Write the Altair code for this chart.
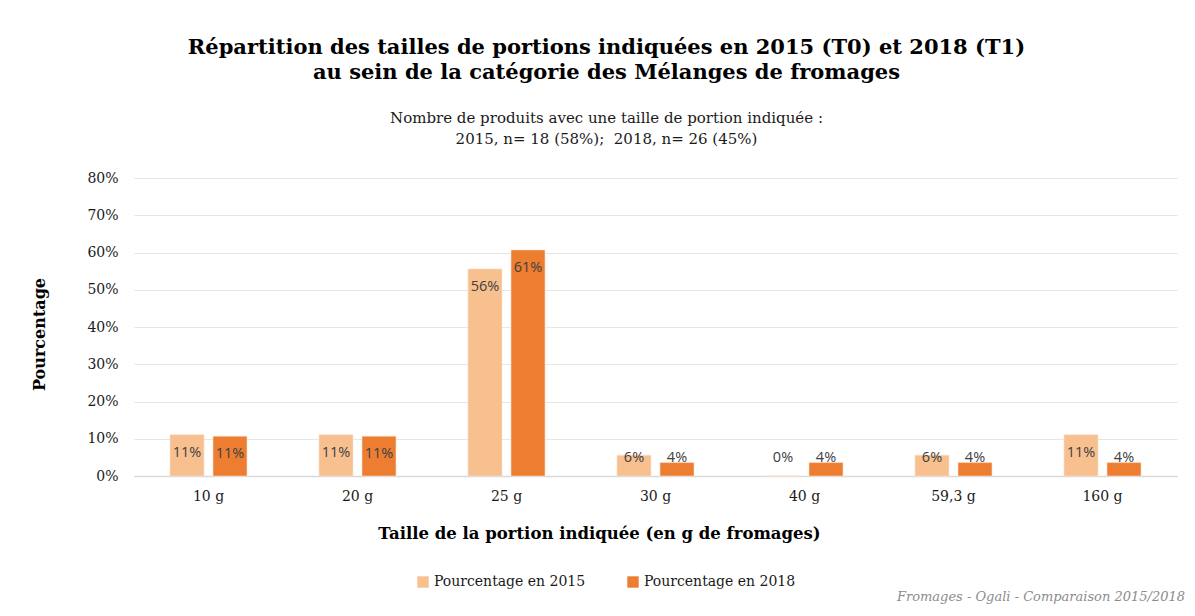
import altair as alt
import pandas as pd

categories = ["10 g", "20 g", "25 g", "30 g", "40 g", "59,3 g", "160 g"]
pct_2015 = [0.111, 0.111, 0.556, 0.056, 0.0, 0.056, 0.111]
pct_2018 = [0.107, 0.107, 0.607, 0.036, 0.036, 0.036, 0.036]
series = ["Pourcentage en 2015", "Pourcentage en 2018"]
colors = ["#F8BF8F", "#ED7D31"]

rows = []
for c, a, b in zip(categories, pct_2015, pct_2018):
    rows.append({"cat": c, "serie": series[0], "v": a})
    rows.append({"cat": c, "serie": series[1], "v": b})
df = pd.DataFrame(rows)

SERIF = "DejaVu Serif"
W, H = 1043, 298

x_axis = alt.Axis(title="Taille de la portion indiquée (en g de fromages)",
                  labelAngle=0, ticks=False, labelPadding=13,
                  labelFont=SERIF, labelFontSize=14, labelColor="#1a1a1a",
                  domainColor="#D9D9D9", domainWidth=1.5,
                  titleFont=SERIF, titleFontSize=16.5, titleFontWeight="bold",
                  titleColor="#000000", titleX=465, titleY=57,
                  titleBaseline="middle", titleAlign="center")
x_scale = alt.Scale(paddingInner=0.483, paddingOuter=0.2415)
y_axis = alt.Axis(format=".0%", values=[0, 0.1, 0.2, 0.3, 0.4, 0.5, 0.6, 0.7, 0.8],
                  labelOverlap=False,
                  domain=False, ticks=False, labelPadding=16,
                  labelFont=SERIF, labelFontSize=14, labelColor="#1a1a1a",
                  gridColor="#E6E6E6", gridWidth=1,
                  title="Pourcentage", titleFont=SERIF, titleFontSize=16,
                  titleFontWeight="bold", titleColor="#000000",
                  titleAngle=270, titleX=-95, titleY=156,
                  titleAlign="center", titleBaseline="middle")
y_scale = alt.Scale(domain=[0, 0.8], nice=False)
xo_scale = alt.Scale(paddingInner=0.209, paddingOuter=0)

bars = alt.Chart(df).mark_bar(stroke="#FBE3D0", strokeWidth=0.6).encode(
    x=alt.X("cat:N", sort=categories, scale=x_scale, axis=x_axis),
    xOffset=alt.XOffset("serie:N", sort=series, scale=xo_scale),
    y=alt.Y("v:Q", scale=y_scale, axis=y_axis),
    color=alt.Color("serie:N", sort=series,
                    scale=alt.Scale(domain=series, range=colors),
                    legend=alt.Legend(title=None, orient="none", direction="horizontal",
                                      legendX=282, legendY=397,
                                      symbolType="square", symbolSize=130,
                                      symbolStrokeWidth=0, columnPadding=40,
                                      labelFont=SERIF, labelFontSize=14,
                                      labelColor="#1a1a1a", labelOffset=4)),
)

labels = alt.Chart(df).transform_calculate(
    lp="max(datum.v - 0.0483, 0.0483)",
    txt="format(datum.v, '.0%')"
).mark_text(font="Open Sans", fontSize=14.5, color="#404040", baseline="middle").encode(
    x=alt.X("cat:N", sort=categories, scale=x_scale, axis=x_axis),
    xOffset=alt.XOffset("serie:N", sort=series, scale=xo_scale),
    y=alt.Y("lp:Q", scale=y_scale, axis=y_axis),
    text="txt:N",
)

footer = alt.Chart(pd.DataFrame({"t": ["Fromages - Ogali - Comparaison 2015/2018"]})).mark_text(
    font=SERIF, fontSize=13, fontStyle="italic", color="#8C8C8C",
    align="right", baseline="middle"
).encode(x=alt.value(1051), y=alt.value(419), text="t:N")

chart = alt.layer(bars, labels, footer).properties(
    width=W, height=H,
    title=alt.TitleParams(
        text=["Répartition des tailles de portions indiquées en 2015 (T0) et 2018 (T1)",
              "au sein de la catégorie des Mélanges de fromages"],
        subtitle=["Nombre de produits avec une taille de portion indiquée :",
                  "2015, n= 18 (58%);\u00a0 2018, n= 26 (45%)"],
        font=SERIF, fontSize=21, fontWeight="bold", color="#000000", lineHeight=25,
        subtitleFont=SERIF, subtitleFontSize=15, subtitleColor="#1a1a1a",
        subtitleLineHeight=21, subtitlePadding=28,
        anchor="middle", dx=-49, offset=24,
    ),
    autosize=alt.AutoSizeParams(type="none"),
    padding={"left": 126, "top": 170, "right": 10, "bottom": 130},
    background="white",
).configure_view(stroke=None)

chart.save("out.html", embed_options={"renderer": "svg", "actions": False})
